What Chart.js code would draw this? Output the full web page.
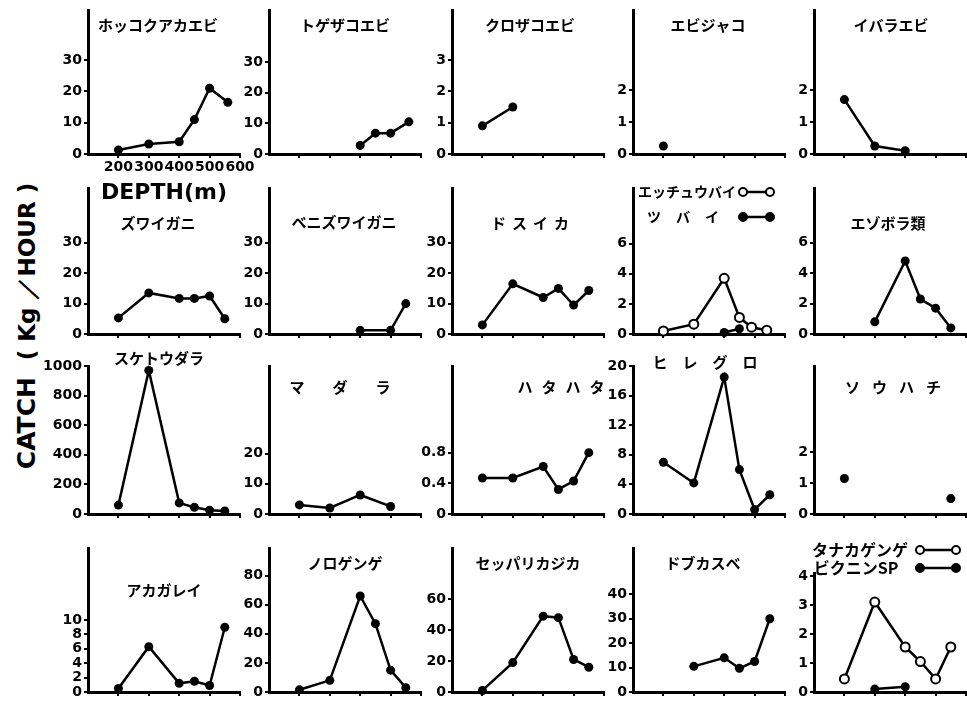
<!DOCTYPE html>
<html>
<head>
<meta charset="utf-8">
<script src="https://cdn.jsdelivr.net/npm/chart.js@4.4.0/dist/chart.umd.min.js"></script>
<style>
body { margin: 0; width: 967px; height: 704px; overflow: hidden; background: #fff; position: relative; }
canvas { position: absolute; }
#ylabel {
    position: absolute; left: 27px; top: 326px; white-space: nowrap;
    transform: translate(-50%, -50%) rotate(-90deg);
    font-family: "DejaVu Sans"; font-weight: bold; color: #000;
}
#ylabel .big { font-size: 25px; }
#ylabel .small { font-size: 23px; }
</style>
</head>
<body>
<div id="ylabel"><span class="big">CATCH</span>&nbsp;&nbsp;&nbsp;<span class="small">( Kg ／HOUR )</span></div>
<script>
// panel names (two names = two series in one panel)
const panelTitles = [
    ['ホッコクアカエビ'], ['トゲザコエビ'], ['クロザコエビ'], ['エビジャコ'], ['イバラエビ'],
    ['ズワイガニ'], ['ベニズワイガニ'], ['ドスイカ'], ['エッチュウバイ', 'ツバイ'], ['エゾボラ類'],
    ['スケトウダラ'], ['マダラ'], ['ハタハタ'], ['ヒレグロ'], ['ソウハチ'],
    ['アカガレイ'], ['ノロゲンゲ'], ['セッパリカジカ'], ['ドブカスベ'], ['タナカゲンゲ', 'ビクニンSP']
];

const depthTicks = [200, 300, 400, 500, 600];
const depthTitle = 'DEPTH(m)';

// filled-circle series: depth (m) and catch (kg/hour)
const depths = [
    [200, 300, 400, 450, 500, 560],
    [400, 450, 500, 560],
    [200, 300],
    [200],
    [200, 300, 400],
    [200, 300, 400, 450, 500, 550],
    [400, 500, 550],
    [200, 300, 400, 450, 500, 550],
    [400, 450],
    [300, 400, 450, 500, 550],
    [200, 300, 400, 450, 500, 550],
    [200, 300, 400, 500],
    [200, 300, 400, 450, 500, 550],
    [200, 300, 400, 450, 500, 550],
    [200, 550],
    [200, 300, 400, 450, 500, 550],
    [200, 300, 400, 450, 500, 550],
    [200, 300, 400, 450, 500, 550],
    [300, 400, 450, 500, 550],
    [300, 400]
];
const catches = [
    [1.3, 3.2, 3.9, 11, 21, 16.5],
    [2.8, 6.8, 6.8, 10.5],
    [0.9, 1.5],
    [0.25],
    [1.7, 0.25, 0.1],
    [5.3, 13.5, 11.7, 11.7, 12.5, 5],
    [1.2, 1.2, 10],
    [3, 16.5, 12, 15, 9.5, 14.3],
    [0.1, 0.35],
    [0.8, 4.8, 2.3, 1.7, 0.4],
    [60, 970, 75, 45, 25, 20],
    [3, 2, 6.3, 2.5],
    [0.47, 0.47, 0.62, 0.32, 0.43, 0.8],
    [7, 4.2, 18.5, 6, 0.6, 2.6],
    [1.15, 0.5],
    [0.5, 6.3, 1.2, 1.5, 0.9, 9],
    [1.5, 8, 66, 47, 15, 3],
    [1, 19, 49, 48, 21, 16],
    [10.5, 14, 9.7, 12.5, 30],
    [0.1, 0.18]
];

// open-circle series
const etchuDepths = [200, 300, 400, 450, 490, 540];
const etchuCatch = [0.2, 0.65, 3.7, 1.1, 0.45, 0.25];
const tanakaDepths = [200, 300, 400, 450, 500, 550];
const tanakaCatch = [0.45, 3.1, 1.55, 1.05, 0.45, 1.55];
const openSeries = { 8: [etchuDepths, etchuCatch], 19: [tanakaDepths, tanakaCatch] };

const yTicks = [
    [0, 10, 20, 30], [0, 10, 20, 30], [0, 1, 2, 3], [0, 1, 2], [0, 1, 2],
    [0, 10, 20, 30], [0, 10, 20, 30], [0, 10, 20, 30], [0, 2, 4, 6], [0, 2, 4, 6],
    [0, 200, 400, 600, 800, 1000], [0, 10, 20], [0, 0.4, 0.8], [0, 4, 8, 12, 16, 20], [0, 1, 2],
    [0, 2, 4, 6, 8, 10], [0, 20, 40, 60, 80], [0, 20, 40, 60], [0, 10, 20, 30, 40], [0, 1, 2, 3, 4]
];
const yMax = [46, 47, 4.6, 4.5, 4.5, 48, 48, 48, 9.7, 9.6, 1000, 49, 1.93, 20, 4.8, 20, 99, 93, 59, 4.1];
const pointsOnly = [3, 14];

// layout (page pixels)
const colX = [88, 269, 452, 633, 814];
const rowTop = [10, 188, 366, 548];
const rowZero = [154, 334, 514, 692];
const topOverride = { 19: 573 };
const AXW = 152, YW = 45, PADT = 25, PADR = 20;

// title placement: [centre x, centre y, letter spacing, font size, legend marker]
const titlePos = [
    [[158, 25, 0, 15]], [[345, 25, 0, 15]], [[530, 25, 0, 15]], [[708, 25, 0, 15]], [[891, 25, 0, 15]],
    [[158, 223, 0, 15]], [[344, 222, 0, 15]], [[530, 223, 6, 15]], [[687, 192, 0, 14, 'open'], [683, 217, 15, 14, 'filled']], [[888, 223, 0, 15]],
    [[159, 358, 0, 15]], [[340, 387, 28, 15]], [[561, 387, 9, 15]], [[705, 362, 15, 15]], [[893, 387, 12, 15]],
    [[164, 590, 0, 15]], [[345, 563, 0, 15]], [[528, 563, 0, 15]], [[703, 563, 0, 15]], [[860, 550, 0, 16, 'open'], [856, 568, 0, 16, 'filled']]
];
const markerX = { 8: [743, 770], 19: [920, 956] };

function drawMarker(ctx, x1, x2, y, open) {
    ctx.beginPath();
    ctx.moveTo(x1, y);
    ctx.lineTo(x2, y);
    ctx.lineWidth = 2.5;
    ctx.strokeStyle = '#000';
    ctx.stroke();
    [x1, x2].forEach(x => {
        ctx.beginPath();
        ctx.arc(x, y, 4, 0, Math.PI * 2);
        ctx.fillStyle = open ? '#fff' : '#000';
        ctx.fill();
        ctx.lineWidth = 2;
        ctx.stroke();
    });
}

const panelTitle = {
    id: 'panelTitle',
    afterDraw(chart, args, opts) {
        const ctx = chart.ctx;
        ctx.save();
        ctx.textAlign = 'center';
        ctx.textBaseline = 'middle';
        opts.lines.forEach(l => {
            const x = l.x - opts.ox, y = l.y - opts.oy;
            ctx.fillStyle = '#000';
            ctx.font = 'bold ' + l.size + 'px "Noto Sans CJK JP"';
            ctx.letterSpacing = l.sp + 'px';
            ctx.fillText(l.text, x + l.sp / 2, y);
            ctx.letterSpacing = '0px';
            if (l.marker) {
                const mx = opts.markerX;
                drawMarker(ctx, mx[0] - opts.ox, mx[1] - opts.ox, y, l.marker === 'open');
            }
        });
        ctx.restore();
    }
};

const tickFont = { family: 'DejaVu Sans', weight: 'bold', size: 14 };

for (let i = 0; i < 20; i++) {
    const col = i % 5, row = Math.floor(i / 5);
    const hx = i === 0 ? 55 : 30;
    const axisTop = topOverride[i] || rowTop[row];
    const pad = PADT + (axisTop - rowTop[row]);
    const left = colX[col] - YW, top = rowTop[row] - PADT;
    const w = YW + AXW + PADR, h = PADT + (rowZero[row] - rowTop[row]) + hx;

    const cv = document.createElement('canvas');
    cv.width = w;
    cv.height = h;
    cv.style.left = left + 'px';
    cv.style.top = top + 'px';
    document.body.appendChild(cv);

    const datasets = [{
        data: depths[i].map((d, k) => ({ x: d, y: catches[i][k] })),
        borderColor: '#000',
        borderWidth: 2.5,
        showLine: !pointsOnly.includes(i),
        pointRadius: 4.5,
        pointBackgroundColor: '#000',
        pointBorderColor: '#000',
        pointBorderWidth: 0,
        clip: false
    }];
    if (openSeries[i]) {
        const [od, oc] = openSeries[i];
        datasets.push({
            data: od.map((d, k) => ({ x: d, y: oc[k] })),
            borderColor: '#000',
            borderWidth: 2.5,
            pointRadius: 4.5,
            pointBackgroundColor: '#fff',
            pointBorderColor: '#000',
            pointBorderWidth: 2,
            clip: false
        });
    }

    const lines = panelTitles[i].map((t, k) => {
        const p = titlePos[i][k];
        return { text: t, x: p[0], y: p[1], sp: p[2], size: p[3], marker: p[4] };
    });

    new Chart(cv, {
        type: 'line',
        data: { datasets },
        options: {
            responsive: false,
            animation: false,
            layout: { padding: { top: pad, right: PADR, left: 0, bottom: 0 } },
            plugins: {
                legend: { display: false },
                tooltip: { enabled: false },
                panelTitle: { lines, ox: left, oy: top, markerX: markerX[i] }
            },
            scales: {
                x: {
                    type: 'linear',
                    min: 100,
                    max: 600,
                    afterBuildTicks: s => { s.ticks = depthTicks.map(v => ({ value: v })); },
                    afterFit: s => { s.height = hx; s.paddingLeft = 0; s.paddingRight = 0; },
                    ticks: {
                        display: i === 0,
                        autoSkip: false,
                        maxRotation: 0,
                        padding: 1,
                        color: '#000',
                        font: tickFont,
                        callback: v => String(v)
                    },
                    grid: { drawOnChartArea: false, drawTicks: true, tickLength: 4, color: '#000', lineWidth: 2 },
                    border: { display: true, color: '#000', width: 3 },
                    title: {
                        display: i === 0,
                        text: depthTitle,
                        color: '#000',
                        font: { family: 'DejaVu Sans', weight: 'bold', size: 22 },
                        padding: { top: 0, bottom: 3 }
                    }
                },
                y: {
                    type: 'linear',
                    min: 0,
                    max: yMax[i],
                    afterBuildTicks: s => { s.ticks = yTicks[i].map(v => ({ value: v })); },
                    afterFit: s => { s.width = YW; s.paddingTop = 0; s.paddingBottom = 0; },
                    ticks: {
                        autoSkip: false,
                        padding: 2,
                        color: '#000',
                        font: tickFont,
                        callback: v => String(v)
                    },
                    grid: { drawOnChartArea: false, drawTicks: true, tickLength: 4, color: '#000', lineWidth: 2 },
                    border: { display: true, color: '#000', width: 3 }
                }
            }
        },
        plugins: [panelTitle]
    });
}
</script>
</body>
</html>
